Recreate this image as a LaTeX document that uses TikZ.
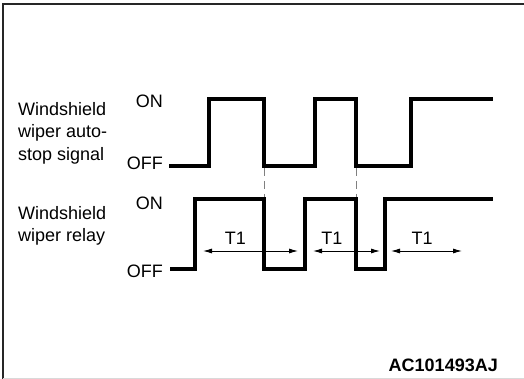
\documentclass[tikz,border=0pt]{standalone}
\usepackage{fontspec}
\setmainfont{Liberation Sans}
\usetikzlibrary{arrows.meta}
\tikzset{
  wave/.style={line width=3.2pt, line join=miter},
  guide/.style={gray, line width=1pt, dash pattern=on 8pt off 5pt},
  span/.style={{Latex[length=9pt,width=5pt]}-{Latex[length=9pt,width=5pt]}, line width=0.9pt},
  lbl/.style={inner sep=0pt},
}
\begin{document}
\begin{tikzpicture}[x=1pt,y=-1pt,>=latex, font=\fontsize{18}{22.5}\selectfont]
\useasboundingbox (0,0) rectangle (524,379);
% frame
\draw[line width=2pt, black!85] (3,379) -- (3,4) -- (524,4);
\draw[black!15, line width=1pt] (3,378) -- (524,378);
% labels
\node[lbl, anchor=west, align=left] (sig) at (18,133) {Windshield\\wiper auto-\\stop signal};
\node[lbl, anchor=west, align=left] (rly) at (18,226) {Windshield\\wiper relay};
\node[lbl, anchor=east] (on1) at (163,101) {ON};
\node[lbl, anchor=east] (off1) at (163,163) {OFF};
\node[lbl, anchor=east] (on2) at (163,203) {ON};
\node[lbl, anchor=east] (off2) at (163,271) {OFF};
% auto-stop signal
\draw[wave] (169,166) -- (209,166) -- (209,99) -- (264,99) -- (264,166) -- (315,166)
  -- (315,99) -- (356,99) -- (356,166) -- (411,166) -- (411,99) -- (493,99);
% relay
\draw[wave] (170,269) -- (195,269) -- (195,199) -- (264,199) -- (264,269) -- (305,269)
  -- (305,199) -- (356,199) -- (356,269) -- (385,269) -- (385,199) -- (493,199);
% guides
\coordinate (g1a) at (264,168); \coordinate (g1b) at (264,197);
\coordinate (g2a) at (356,168); \coordinate (g2b) at (356,197);
\draw[guide] (g1a) -- (g1b);
\draw[guide] (g2a) -- (g2b);
% T1 spans
\coordinate (t1a) at (203,251); \coordinate (t1b) at (298,251);
\coordinate (t2a) at (313,251); \coordinate (t2b) at (380,251);
\coordinate (t3a) at (391,251); \coordinate (t3b) at (462,251);
\draw[span] (t1a) -- node[above=3pt, pos=0.34] (T1a) {T1} (t1b);
\draw[span] (t2a) -- node[above=3pt, pos=0.28] (T1b) {T1} (t2b);
\draw[span] (t3a) -- node[above=3pt, pos=0.44] (T1c) {T1} (t3b);
% code
\node[lbl, anchor=east, font=\fontsize{18}{22}\selectfont\bfseries] (code) at (498,365) {AC101493AJ};
\end{tikzpicture}
\end{document}
